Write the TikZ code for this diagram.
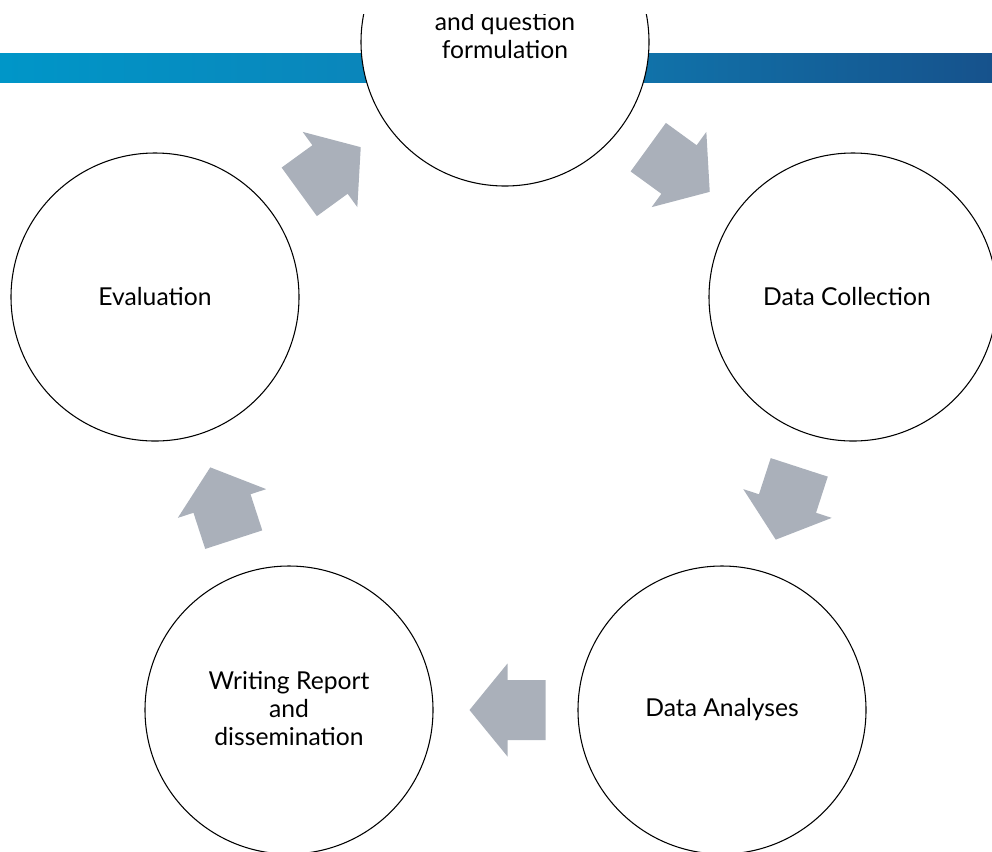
\documentclass[tikz,border=0pt]{standalone}
\usepackage{fontspec}
\setmainfont{Lato}
\usetikzlibrary{calc}
\definecolor{arrowgray}{RGB}{170,176,186}
\definecolor{bandL}{RGB}{0,150,200}
\definecolor{bandM}{RGB}{14,128,182}
\definecolor{bandR}{RGB}{22,82,140}
\newcommand\blockarr[2]{\fill[blockarrow, shift={#1}, rotate=#2] (-38,-30) -- (0,-30) -- (0,-46.5) -- (38,0) -- (0,46.5) -- (0,30) -- (-38,30) -- cycle;}
\begin{document}
\begin{tikzpicture}[x=0.75pt,y=-0.75pt,
  stage/.style={circle,draw=black,line width=0.8pt,fill=white,minimum size=216pt,inner sep=0pt},
  lbl/.style={font=\fontsize{18.5}{21}\selectfont,align=center,text=black},
  blockarrow/.style={fill=arrowgray,draw=none}]
\useasboundingbox (0,0) rectangle (992,851);
\clip (0,0) rectangle (992,851);
\shade[left color=bandL,right color=bandR,middle color=bandM] (0,53) rectangle (992,82);
\begin{scope}
\clip (0,14) rectangle (992,851);
\node[stage] (s1) at (505,42) {};
\node[lbl] (t1) at (505,36) {and question\\formulation};
\end{scope}
\node[stage] (s2) at (853,297) {};
\node[lbl] (t2) at (847,297) {Data Collection};
\node[stage] (s3) at (722,710) {};
\node[lbl] (t3) at (722,710) {Data Analyses};
\node[stage] (s4) at (289,710) {};
\node[lbl] (t4) at (289,709) {Writing Report\\and\\dissemination};
\node[stage] (s5) at (155,297) {};
\node[lbl] (t5) at (155,297) {Evaluation};
\blockarr{($(s1)!0.5!(s2)$)}{-36}
\blockarr{($(s2)!0.5!(s3)$)}{-108}
\blockarr{($(s3)!0.5!(s4)+(2,0)$)}{180}
\blockarr{($(s4)!0.5!(s5)$)}{108}
\blockarr{($(s5)!0.5!(s1)$)}{36}
\end{tikzpicture}
\end{document}
